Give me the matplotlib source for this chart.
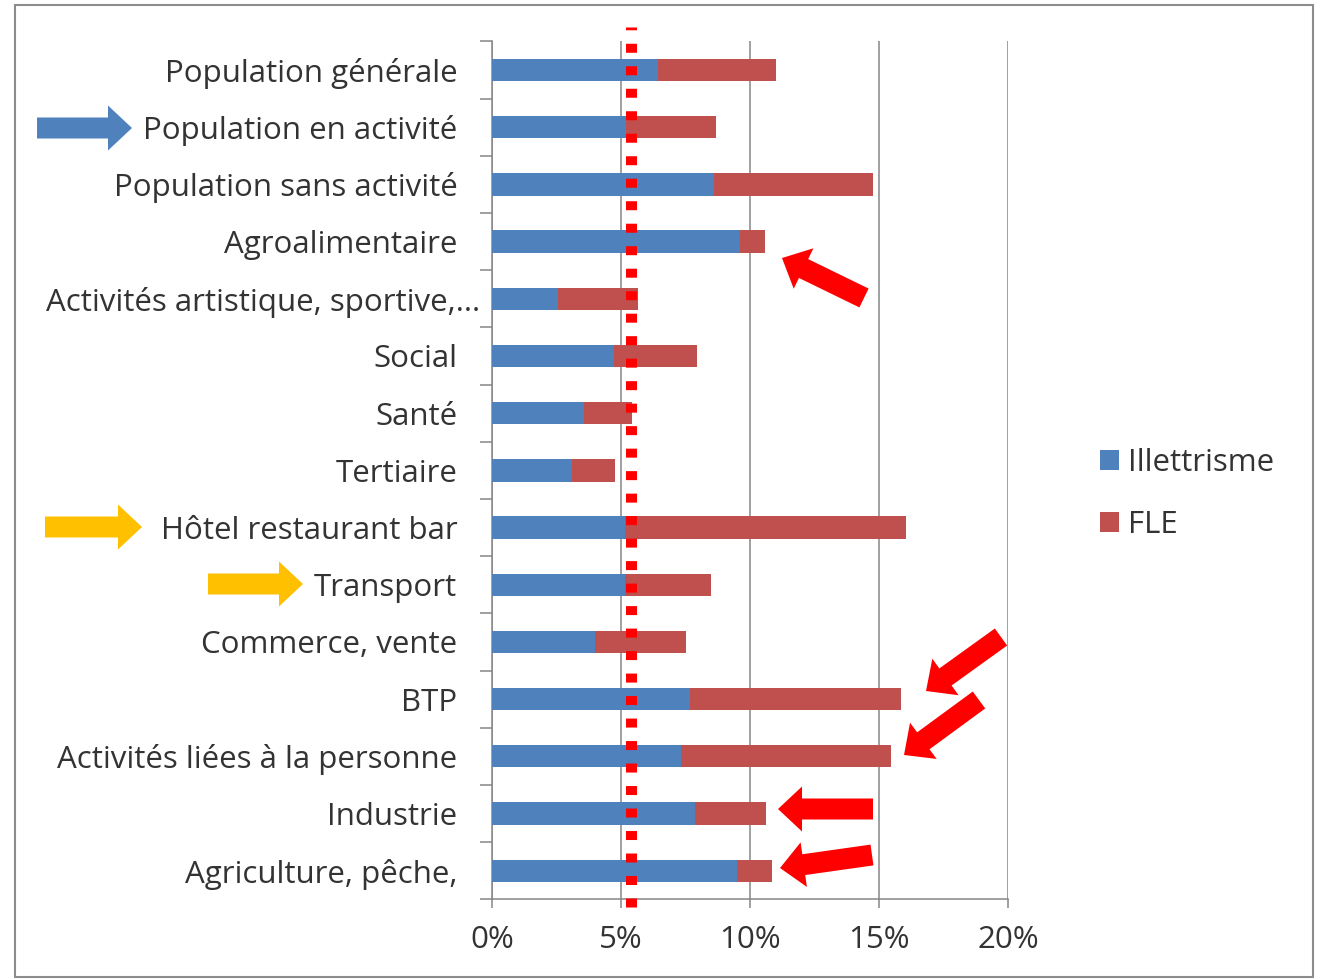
import numpy as np
import matplotlib
matplotlib.use("Agg")
import matplotlib.pyplot as plt
from matplotlib.patches import FancyArrow, Rectangle
from matplotlib.ticker import PercentFormatter, FixedLocator
from matplotlib.transforms import ScaledTranslation

plt.rcParams['font.family'] = ['Open Sans', 'DejaVu Sans']

# data (percent), top to bottom
categories = [
    "Population générale",
    "Population en activité",
    "Population sans activité",
    "Agroalimentaire",
    "Activités artistique, sportive,...",
    "Social",
    "Santé",
    "Tertiaire",
    "Hôtel restaurant bar",
    "Transport",
    "Commerce, vente",
    "BTP",
    "Activités liées à la personne",
    "Industrie",
    "Agriculture, pêche,",
]
illettrisme = [6.45, 5.20, 8.60, 9.60, 2.57, 4.72, 3.58, 3.12, 5.15, 5.15, 3.98, 7.68, 7.34, 7.88, 9.48]
fle = [4.55, 3.47, 6.17, 1.00, 3.09, 3.21, 1.85, 1.64, 10.90, 3.33, 3.54, 8.17, 8.11, 2.73, 1.36]
seuil = 5.37  # red dotted reference line
x_ticks = [0, 5, 10, 15, 20]

W, H = 1324, 980
fig = plt.figure(figsize=(W / 100, H / 100), dpi=100)
ax = fig.add_axes([492 / W, 1 - 899.3 / H, (1008 - 492) / W, (899.3 - 41.4) / H])

y = np.arange(len(categories))
blue = "#4F81BD"
red = "#C0504D"
ax.barh(y, illettrisme, height=0.39, color=blue, label="Illettrisme", zorder=3)
ax.barh(y, fle, left=illettrisme, height=0.39, color=red, label="FLE", zorder=3)

fs = 22.5
ax.set_ylim(len(categories) - 0.5, -0.5)
ax.set_xlim(0, 20)
ax.set_yticks(y)
ax.set_yticklabels(categories)
ax.yaxis.set_minor_locator(FixedLocator(np.arange(-0.5, len(categories), 1)))
ax.tick_params(axis='y', which='major', length=0, pad=25, labelsize=fs, labelcolor='#333333')
ax.tick_params(axis='y', which='minor', length=9, width=1.1, color='#868686')
ax.set_xticks(x_ticks)
ax.xaxis.set_major_formatter(PercentFormatter(100, decimals=0))
ax.tick_params(axis='x', length=6.5, width=1.1, color='#868686', pad=12, labelsize=fs, labelcolor='#333333')

# the long label sits closer to the axis in the original
lab = ax.get_yticklabels()[4]
lab.set_transform(lab.get_transform() + ScaledTranslation(0.23, 0, fig.dpi_scale_trans))

for s in ['top', 'right']:
    ax.spines[s].set_visible(False)
for s in ['left', 'bottom']:
    ax.spines[s].set_color('#868686')
    ax.spines[s].set_linewidth(1.1)
ax.grid(axis='x', color='#868686', linewidth=1.1, zorder=0)
ax.set_axisbelow(True)

# red dotted threshold line
ax.axvline(seuil, ymin=-0.009, ymax=1.017, color='#FF0000', linewidth=7.9,
           linestyle=(0, (0.82, 1.23)), dash_capstyle='butt', clip_on=False, zorder=5)

leg = ax.legend(loc='center left', bbox_to_anchor=(1072 / W, 1 - 494 / H),
                bbox_transform=fig.transFigure, frameon=False, fontsize=fs,
                handlelength=0.6, handleheight=0.6, handletextpad=0.3, labelspacing=1.05)
for t in leg.get_texts():
    t.set_color('#333333')

# overlay in pixel coordinates for frame and arrows
ov = fig.add_axes([0, 0, 1, 1], zorder=10)
ov.set_xlim(0, W)
ov.set_ylim(H, 0)
ov.axis('off')
ov.patch.set_alpha(0)
ov.add_patch(Rectangle((15, 5), 1298, 972, fill=False, edgecolor='#8C8C8C', linewidth=1.5))


def arrow(x0, y0, x1, y1, color, w=21, hw=45, hl=24):
    ov.add_patch(FancyArrow(x0, y0, x1 - x0, y1 - y0, width=w, head_width=hw, head_length=hl,
                            length_includes_head=True, color=color, linewidth=0))


arrow(37, 128, 132, 128, blue)
arrow(45, 527, 142, 527, "#FFC000")
arrow(208, 584, 303, 584, "#FFC000")
arrow(864, 298, 782, 258, "#FF0000")
arrow(1001, 637, 926, 691, "#FF0000")
arrow(979, 700, 904, 755, "#FF0000")
arrow(873, 809, 778, 809, "#FF0000")
arrow(872, 855, 780, 868, "#FF0000")

fig.savefig("out.png", dpi=100)
